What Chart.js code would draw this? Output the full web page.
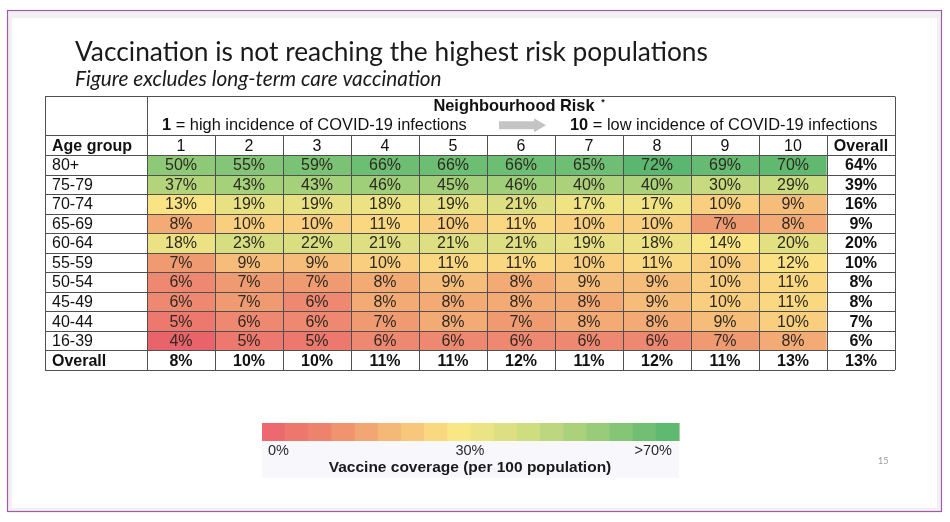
<!DOCTYPE html>
<html>
<head>
<meta charset="utf-8">
<script src="https://cdn.jsdelivr.net/npm/chart.js@4"></script>
<style>
  body { margin: 0; background: #ffffff; }
  canvas { display: block; }
</style>
</head>
<body>
<canvas id="heat" width="950" height="522"></canvas>
<script>
// Vaccine coverage (per 100 population) by age group and neighbourhood risk decile
const riskLabels = ['1', '2', '3', '4', '5', '6', '7', '8', '9', '10'];
const ageGroups = ['80+', '75-79', '70-74', '65-69', '60-64', '55-59', '50-54', '45-49', '40-44', '16-39'];

const coverage = [
    [50, 55, 59, 66, 66, 66, 65, 72, 69, 70],
    [37, 43, 43, 46, 45, 46, 40, 40, 30, 29],
    [13, 19, 19, 18, 19, 21, 17, 17, 10, 9],
    [8, 10, 10, 11, 10, 11, 10, 10, 7, 8],
    [18, 23, 22, 21, 21, 21, 19, 18, 14, 20],
    [7, 9, 9, 10, 11, 11, 10, 11, 10, 12],
    [6, 7, 7, 8, 9, 8, 9, 9, 10, 11],
    [6, 7, 6, 8, 8, 8, 8, 9, 10, 11],
    [5, 6, 6, 7, 8, 7, 8, 8, 9, 10],
    [4, 5, 5, 6, 6, 6, 6, 6, 7, 8]
];
const overallByAge = [64, 39, 16, 9, 20, 10, 8, 8, 7, 6];
const overallByRisk = [8, 10, 10, 11, 11, 12, 11, 12, 11, 13];
const overallAll = 13;

// colour scale (value -> colour) read from the cells
const colourStops = [
    [0, [231, 90, 103]], [4, [233, 99, 107]], [5, [236, 120, 110]], [6, [238, 136, 112]],
    [7, [240, 154, 114]], [8, [243, 170, 117]], [9, [246, 189, 122]], [10, [249, 207, 127]],
    [12, [251, 225, 132]], [14, [249, 229, 132]], [18, [236, 226, 131]], [22, [217, 222, 129]],
    [30, [200, 218, 127]], [40, [171, 210, 123]], [46, [160, 207, 122]], [50, [142, 201, 120]],
    [60, [120, 194, 117]], [66, [108, 190, 115]], [72, [91, 183, 111]]
];
// legend bar colours, left to right
const legendColours = ['#ec6a6f', '#ed766d', '#ee836d', '#f0946f', '#f2a673', '#f4b877', '#f7c87c',
    '#f9d880', '#f9e685', '#ebe484', '#dde082', '#cddd80', '#bcd77d', '#abd27b', '#98cc78', '#84c676', '#70bf73', '#60b970'];

function colourFor(v) {
    for (let i = 1; i < colourStops.length; i++) {
        if (v <= colourStops[i][0]) {
            const [v0, c0] = colourStops[i - 1];
            const [v1, c1] = colourStops[i];
            const t = (v - v0) / (v1 - v0);
            const c = c0.map((a, k) => Math.round(a + (c1[k] - a) * t));
            return 'rgb(' + c.join(',') + ')';
        }
    }
    const last = colourStops[colourStops.length - 1][1];
    return 'rgb(' + last.join(',') + ')';
}

const colLabels = riskLabels.concat(['Overall']);
const rowLabels = ageGroups.concat(['Overall']);
const rowValues = coverage.map((row, r) => row.concat([overallByAge[r]]));
rowValues.push(overallByRisk.concat([overallAll]));

// one floating-bar dataset per table row
const datasets = rowValues.map((vals, r) => ({
    label: rowLabels[r],
    data: vals.map(() => [r, r + 1]),
    values: vals,
    backgroundColor: vals.map((v, c) => (r === ageGroups.length || c === riskLabels.length) ? '#ffffff' : colourFor(v)),
    borderWidth: 0,
    barPercentage: 1,
    categoryPercentage: 1,
    grouped: false
}));

const tableFont = '"Liberation Sans", Arial, sans-serif';
const lineColour = '#505050';

const slidePlugin = {
    id: 'slide',
    beforeDraw(chart) {
        const ctx = chart.ctx;
        ctx.save();
        ctx.fillStyle = '#ffffff';
        ctx.fillRect(0, 0, chart.width, chart.height);
        ctx.fillStyle = '#f1f1f1';
        ctx.fillRect(7, 10, 935, 502);
        ctx.fillStyle = '#ffffff';
        ctx.fillRect(12, 18, 925, 490);
        ctx.strokeStyle = '#a05aa8';
        ctx.lineWidth = 1.2;
        ctx.strokeRect(7.5, 10.5, 934, 501);

        // title and subtitle
        ctx.fillStyle = '#1a1a1a';
        ctx.textBaseline = 'alphabetic';
        ctx.textAlign = 'left';
        ctx.font = '26.3px Lato, sans-serif';
        ctx.fillText('Vaccination is not reaching the highest risk populations', 75, 61);
        ctx.font = 'italic 20.8px Lato, sans-serif';
        ctx.fillText('Figure excludes long-term care vaccination', 75, 86);

        // page number
        ctx.fillStyle = '#9a9a9a';
        ctx.font = '9px Lato, sans-serif';
        ctx.fillText('15', 878, 464);
        ctx.restore();
    },
    afterDatasetsDraw(chart) {
        const ctx = chart.ctx;
        const x = chart.scales.x;
        const y = chart.scales.y;
        const area = chart.chartArea;
        const rowH = y.getPixelForValue(1) - y.getPixelForValue(0);
        const tableLeft = 45;
        const tableTop = area.top - 3 * rowH;
        const headTop = area.top - rowH;

        ctx.save();
        ctx.textBaseline = 'middle';
        ctx.fillStyle = '#2a2a2a';

        // cell values
        chart.data.datasets.forEach((ds, r) => {
            const meta = chart.getDatasetMeta(r);
            meta.data.forEach((bar, c) => {
                const bold = r === ageGroups.length || c === riskLabels.length;
                ctx.font = (bold ? 'bold ' : '') + '16px ' + tableFont;
                ctx.textAlign = 'center';
                ctx.fillStyle = bold ? '#111111' : '#2e2a22';
                ctx.fillText(ds.values[c] + '%', bar.x, (bar.y + bar.base) / 2 + 1);
            });
        });

        // row labels
        ctx.textAlign = 'left';
        rowLabels.forEach((lab, r) => {
            ctx.font = (r === ageGroups.length ? 'bold ' : '') + '16px ' + tableFont;
            ctx.fillStyle = '#111111';
            ctx.fillText(lab, tableLeft + 7, y.getPixelForValue(r + 0.5) + 1);
        });

        // column header row
        ctx.font = 'bold 16px ' + tableFont;
        ctx.fillText('Age group', tableLeft + 7, headTop + rowH / 2 + 1);
        ctx.textAlign = 'center';
        colLabels.forEach((lab, c) => {
            ctx.font = (c === riskLabels.length ? 'bold ' : '') + '16px ' + tableFont;
            ctx.fillText(lab, x.getPixelForValue(c), headTop + rowH / 2 + 1);
        });

        // neighbourhood risk header
        ctx.font = 'bold 16.4px ' + tableFont;
        ctx.fillText('Neighbourhood Risk', 514, tableTop + 10);
        ctx.font = 'bold 9px ' + tableFont;
        ctx.fillText('*', 603, tableTop + 6);

        ctx.textAlign = 'left';
        const line2 = tableTop + 29;
        ctx.font = 'bold 16.4px ' + tableFont;
        ctx.fillText('1', 162, line2);
        let w = ctx.measureText('1').width;
        ctx.font = '16.4px ' + tableFont;
        ctx.fillText(' = high incidence of COVID-19 infections', 162 + w, line2);
        ctx.font = 'bold 16.4px ' + tableFont;
        ctx.fillText('10', 570, line2);
        w = ctx.measureText('10').width;
        ctx.font = '16.4px ' + tableFont;
        ctx.fillText(' = low incidence of COVID-19 infections', 570 + w, line2);

        // grey arrow
        ctx.fillStyle = '#c4c4c4';
        ctx.beginPath();
        ctx.moveTo(499, line2 - 4);
        ctx.lineTo(534, line2 - 4);
        ctx.lineTo(534, line2 - 7);
        ctx.lineTo(546, line2);
        ctx.lineTo(534, line2 + 7);
        ctx.lineTo(534, line2 + 4);
        ctx.lineTo(499, line2 + 4);
        ctx.closePath();
        ctx.fill();

        // grid lines
        ctx.strokeStyle = lineColour;
        ctx.lineWidth = 1;
        ctx.beginPath();
        for (let r = 0; r <= rowLabels.length; r++) {
            const py = Math.round(y.getPixelForValue(r)) + 0.5;
            ctx.moveTo(tableLeft, py);
            ctx.lineTo(area.right, py);
        }
        const hy = Math.round(headTop) + 0.5;
        ctx.moveTo(tableLeft, hy);
        ctx.lineTo(area.right, hy);
        const ty = Math.round(tableTop) + 0.5;
        ctx.moveTo(tableLeft, ty);
        ctx.lineTo(area.right, ty);
        for (let c = 0; c <= colLabels.length; c++) {
            const px = Math.round(c === 0 ? area.left : c === colLabels.length ? area.right
                : (x.getPixelForValue(c - 1) + x.getPixelForValue(c)) / 2) + 0.5;
            const top = (c === 0 || c === colLabels.length) ? ty : hy;
            ctx.moveTo(px, top);
            ctx.lineTo(px, area.bottom);
        }
        ctx.moveTo(tableLeft + 0.5, ty);
        ctx.lineTo(tableLeft + 0.5, area.bottom);
        ctx.stroke();

        // colour legend
        const lx = 262, lw = 417, ly = 423, lh = 18;
        ctx.fillStyle = '#f8f8fc';
        ctx.fillRect(lx, ly + lh, lw, 37);
        const seg = lw / legendColours.length;
        legendColours.forEach((col, i) => {
            ctx.fillStyle = col;
            ctx.fillRect(lx + i * seg, ly, seg + 0.6, lh);
        });
        ctx.fillStyle = '#2a2a2a';
        ctx.font = '14.5px ' + tableFont;
        ctx.textAlign = 'left';
        ctx.fillText('0%', 268, 451);
        ctx.textAlign = 'center';
        ctx.fillText('30%', 470, 451);
        ctx.textAlign = 'right';
        ctx.fillText('>70%', 672, 451);
        ctx.textAlign = 'center';
        ctx.font = 'bold 15.5px ' + tableFont;
        ctx.fillStyle = '#1a1a1a';
        ctx.fillText('Vaccine coverage (per 100 population)', 470, 468);
        ctx.restore();
    }
};

new Chart(document.getElementById('heat'), {
    type: 'bar',
    data: { labels: colLabels, datasets: datasets },
    options: {
        responsive: false,
        animation: false,
        devicePixelRatio: 1,
        layout: { padding: { left: 147, right: 55, top: 155, bottom: 152 } },
        scales: {
            x: { type: 'category', display: false, offset: true },
            y: { type: 'linear', display: false, min: 0, max: rowLabels.length, reverse: true }
        },
        plugins: { legend: { display: false }, tooltip: { enabled: false } }
    },
    plugins: [slidePlugin]
});
</script>
</body>
</html>
